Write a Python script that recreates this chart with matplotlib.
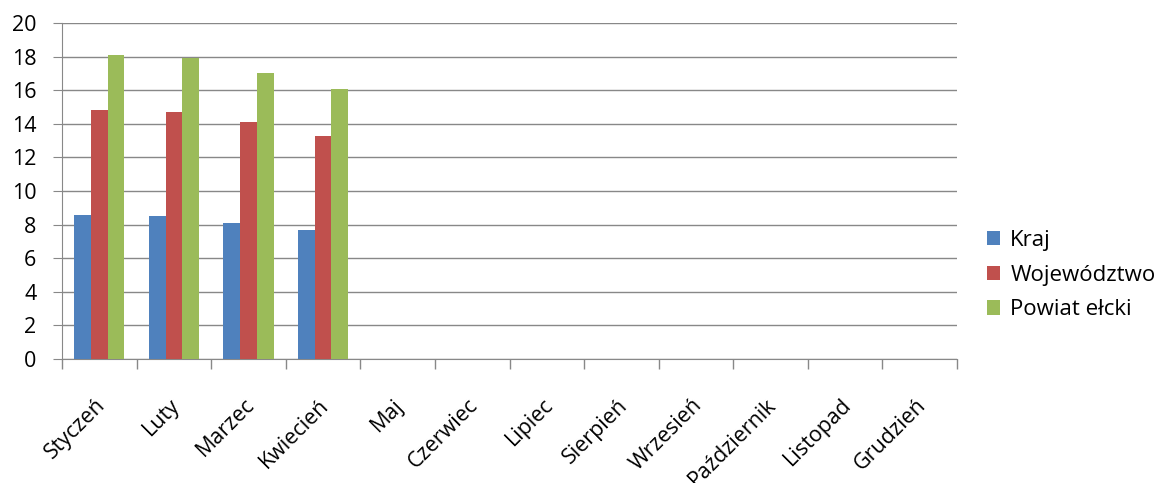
import numpy as np
import matplotlib.pyplot as plt
import matplotlib.transforms as mtransforms

plt.rcParams['font.family'] = ['Open Sans', 'DejaVu Sans']

months = ["Styczeń", "Luty", "Marzec", "Kwiecień", "Maj", "Czerwiec", "Lipiec",
          "Sierpień", "Wrzesień", "Październik", "Listopad", "Grudzień"]
kraj = [8.6, 8.5, 8.1, 7.7]
wojewodztwo = [14.8, 14.7, 14.1, 13.3]
powiat = [18.1, 17.9, 17.0, 16.1]

series = [("Kraj", kraj, "#4f81bd"),
          ("Województwo", wojewodztwo, "#c0504d"),
          ("Powiat ełcki", powiat, "#9bbb59")]

fig = plt.figure(figsize=(11.68, 4.83), dpi=100)
ax = fig.add_axes([62 / 1168, 1 - 359 / 483, 895 / 1168, 336 / 483])

w = 0.224
for i, (name, vals, col) in enumerate(series):
    x = np.arange(len(vals)) + (i - 1) * w
    ax.bar(x, vals, width=w, color=col, label=name, zorder=3)

ax.set_xlim(-0.5, len(months) - 0.5)
ax.set_ylim(0, 20)
ax.set_yticks(range(0, 21, 2))
ax.yaxis.grid(True, color="#888888", linewidth=1)
ax.set_axisbelow(True)

ax.set_xticks(np.arange(len(months) + 1) - 0.5)
ax.set_xticklabels([])
ax.set_xticks(np.arange(len(months)), minor=True)
ax.set_xticklabels(months, minor=True, rotation=45, ha="right", va="center",
                   rotation_mode="anchor", fontsize=15.5)
ax.tick_params(axis="x", which="minor", length=0, pad=31)
ax.tick_params(axis="x", which="major", length=7, color="#888888", width=1)
ax.tick_params(axis="y", length=6.5, color="#888888", labelsize=15.5, pad=12)

shift = mtransforms.ScaledTranslation(0.03, 0, fig.dpi_scale_trans)
for lab in ax.get_xticklabels(minor=True):
    lab.set_transform(lab.get_transform() + shift)

for s in ["top", "right"]:
    ax.spines[s].set_visible(False)
for s in ["left", "bottom"]:
    ax.spines[s].set_color("#888888")

ax.legend(loc="center left", bbox_to_anchor=(1.0335, 0.25), frameon=False,
          fontsize=16, handlelength=0.6, handleheight=0.6, labelspacing=0.62,
          handletextpad=0.45, borderaxespad=0, borderpad=0)

fig.savefig("out.png", dpi=100)
